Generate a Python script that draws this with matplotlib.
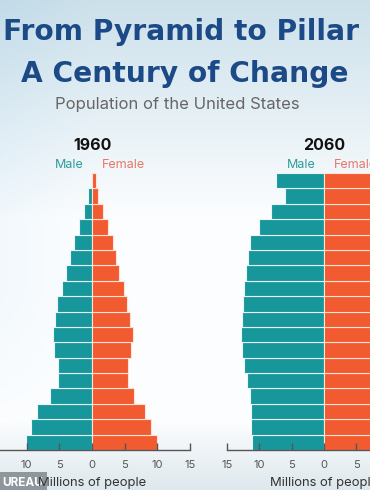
import numpy as np
import matplotlib
matplotlib.use("Agg")
import matplotlib.pyplot as plt

# ---- data (millions of people), age groups 0-4 ... 85+ ----
age_groups = ["0-4", "5-9", "10-14", "15-19", "20-24", "25-29", "30-34", "35-39",
              "40-44", "45-49", "50-54", "55-59", "60-64", "65-69", "70-74",
              "75-79", "80-84", "85+"]
male_1960 = [10.1, 9.35, 8.35, 6.45, 5.15, 5.2, 5.75, 6.0, 5.6, 5.3, 4.6, 4.0,
             3.3, 2.8, 2.0, 1.3, 0.6, 0.2]
female_1960 = [9.9, 9.1, 8.15, 6.5, 5.45, 5.45, 5.95, 6.3, 5.8, 5.4, 4.9, 4.2,
               3.7, 3.25, 2.5, 1.7, 0.9, 0.6]
male_2060 = [11.2, 11.3, 11.3, 11.45, 11.9, 12.35, 12.75, 12.85, 12.7, 12.45,
             12.4, 12.1, 11.75, 11.5, 10.1, 8.25, 6.1, 7.5]
female_2060 = [10.7, 10.8, 10.8, 10.9, 11.4, 11.8, 12.2, 12.5, 12.4, 12.3,
               12.1, 11.9, 11.8, 11.8, 10.8, 9.2, 7.3, 11.5]
tick_values = [-15, -10, -5, 0, 5, 10, 15]
tick_labels = [str(abs(v)) for v in tick_values]

MALE = "#17979c"
FEMALE = "#f25a30"
MALE_TXT = "#2e9d9a"
FEMALE_TXT = "#e8776a"
TITLE = "#1b4a86"
GRAY = "#555555"

plt.rcParams['font.family'] = ['Inter', 'DejaVu Sans']

W, H = 370, 490
fig = plt.figure(figsize=(W / 100, H / 100), dpi=100)

# background gradient
bg = fig.add_axes([0, 0, 1, 1], zorder=-10)
yy, xx = np.mgrid[0:1:200j, 0:1:160j]
top = np.array([0.80, 0.88, 0.92])
white = np.array([0.99, 0.995, 1.0])
bottom = np.array([0.87, 0.91, 0.93])
t = np.clip((yy - 0.0) / 0.45, 0, 1)[..., None]
img = top * (1 - t) + white * t
b = np.clip((yy - 0.86) / 0.14, 0, 1)[..., None]
img = img * (1 - b) + bottom * b
side = np.clip(1 - xx / 0.25, 0, 1)[..., None] * 0.04 * (1 - np.clip((yy - 0.6) / 0.3, 0, 1))[..., None]
img = np.clip(img - side * np.array([1, 0.5, 0.2]), 0, 1)
bg.imshow(img, aspect="auto", extent=[0, 1, 0, 1], origin="upper")
bg.set_xlim(0, 1)
bg.set_ylim(0, 1)
bg.set_axis_off()
# logo fragment at the bottom-left, drawn behind the axes labels
bg.text(2 / W, 1 - 482.5 / H, "UREAU", ha="left", va="center", fontsize=8.5,
        fontweight="bold", color="white", transform=bg.transAxes,
        bbox=dict(boxstyle="square,pad=0.35", facecolor="#8e979b", edgecolor="none"))

def px(x0, y_top, x1, y_bot):
    return [x0 / W, 1 - y_bot / H, (x1 - x0) / W, (y_bot - y_top) / H]

def panel(rect, male, female, year, cx, hide_first=False):
    ax = fig.add_axes(rect)
    ax.patch.set_alpha(0)
    y = np.arange(len(age_groups))
    ax.barh(y, [-m for m in male], height=1.0, color=MALE, edgecolor="#e9f6f6", linewidth=0.8)
    ax.barh(y, female, height=1.0, color=FEMALE, edgecolor="#fde3d8", linewidth=0.8)
    ax.set_xlim(-15, 15)
    ax.set_ylim(-0.5, len(age_groups) - 0.5)
    for s in ["top", "left", "right"]:
        ax.spines[s].set_visible(False)
    ax.spines["bottom"].set_color(GRAY)
    ax.spines["bottom"].set_linewidth(1.0)
    ax.set_yticks([])
    ax.set_xticks(tick_values)
    labels = list(tick_labels)
    if hide_first:
        labels[0] = ""
    ax.set_xticklabels(labels)
    ax.tick_params(axis="x", direction="in", length=5, width=1, color=GRAY,
                   labelcolor=GRAY, labelsize=8, pad=7)
    ax.set_xlabel("Millions of people", fontsize=9.4, color="#333333", labelpad=5)
    fig.text(cx / W, 1 - 145 / H, year, ha="center", va="center", fontsize=11.5,
             fontweight="bold", color="#111111")
    fig.text((cx - 23) / W, 1 - 165 / H, "Male", ha="center", va="center",
             fontsize=9, color=MALE_TXT)
    fig.text((cx + 31) / W, 1 - 165 / H, "Female", ha="center", va="center",
             fontsize=9, color=FEMALE_TXT)
    return ax

panel(px(-6, 173, 190, 450), male_1960, female_1960, "1960", 92, hide_first=True)
panel(px(227, 173, 421, 450), male_2060, female_2060, "2060", 324)

t1 = fig.text(181 / W, 1 - 32 / H, "From Pyramid to Pillar", ha="center", va="center",
              fontsize=20, fontweight="bold", color=TITLE, family="DejaVu Sans")
t2 = fig.text(185 / W, 1 - 74 / H, "A Century of Change", ha="center", va="center",
              fontsize=20, fontweight="bold", color=TITLE, family="DejaVu Sans")
fig.canvas.draw()
r = fig.canvas.get_renderer()
w1 = t1.get_window_extent(r).width
fs = 20 * 356 / w1
t1.set_fontsize(fs)
t2.set_fontsize(fs)

fig.text(177 / W, 1 - 104 / H, "Population of the United States", ha="center",
         va="center", fontsize=12, color="#666666")

fig.savefig("out.png", dpi=100)
